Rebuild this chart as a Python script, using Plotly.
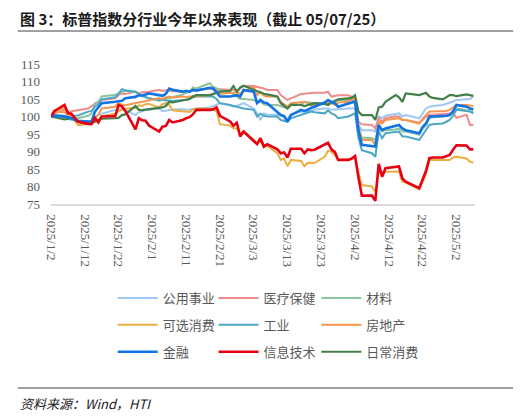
import plotly.graph_objects as go
import pandas as pd

# 美股交易日（剔除休市日）
holidays = ["2025-01-09", "2025-01-20", "2025-02-17", "2025-04-18"]
dates = pd.bdate_range("2025-01-02", "2025-05-07", freq="C", holidays=holidays)

tick_labels = ["2025/1/2", "2025/1/12", "2025/1/22", "2025/2/1", "2025/2/11", "2025/2/21",
               "2025/3/3", "2025/3/13", "2025/3/23", "2025/4/2", "2025/4/12", "2025/4/22", "2025/5/2"]

# 各行业指数（2025/1/2 = 100），按月分行
utilities = [100, 100.0, 99.8, 99.3, 99.0, 98.8, 98.5, 98.7, 100.0, 100.4, 100.8, 101.9, 102.3, 102.0, 101.8, 100.4, 101.2, 101.5, 101.9, 101.9,
             102.3, 101.5, 101.7, 102.0, 102.0, 102.1, 101.9, 102.0, 102.2, 102.3, 102.6, 103.0, 103.4, 103.8, 103.2, 102.8, 103.0, 103.5, 103.8,
             102.3, 100.9, 99.0, 100.9, 100.6, 100.4, 100.4, 100.0, 99.2, 100.6, 101.4, 101.2, 101.5, 101.9, 102.0, 102.3, 102.3, 101.9, 102.0, 102.2, 102.3,
             102.3, 102.3, 97.6, 96.1, 96.1, 95.7, 100.0, 99.5, 100.2, 100.6, 100.9, 100.0, 100.4, 99.5, 101.0, 102.3, 102.8, 103.0, 103.3, 103.6, 103.8,
             104.3, 104.7, 104.9, 105.0, 105.7]
health = [100, 100.9, 101.9, 101.4, 101.5, 101.8, 102.3, 103.0, 103.5, 104.0, 104.7, 105.2, 106.1, 106.6, 106.4, 107.1, 106.6, 106.9, 107.1, 107.1,
          107.6, 107.3, 107.5, 107.4, 107.1, 107.0, 107.1, 107.1, 107.3, 107.6, 108.0, 107.8, 107.5, 107.8, 107.6, 107.6, 107.3, 108.0, 108.7,
          108.7, 108.5, 108.3, 108.0, 107.6, 107.6, 106.1, 105.5, 104.7, 105.2, 106.4, 106.5, 106.6, 106.7, 106.8, 106.8, 107.1, 105.7, 105.9, 106.1, 106.1,
          105.7, 105.2, 98.5, 97.8, 97.6, 96.6, 99.5, 98.5, 99.5, 100.1, 100.0, 99.0, 99.0, 98.2, 99.0, 100.0, 100.4, 100.5, 100.7, 100.9, 100.9,
          100.9, 99.6, 100.5, 97.6, 97.6]
materials = [100, 100.3, 100.1, 99.8, 99.6, 99.5, 100.2, 100.9, 103.8, 104.2, 105.7, 106.2, 106.4, 107.1, 107.3, 107.0, 106.6, 106.0, 105.8, 105.2,
             104.5, 104.7, 105.0, 105.2, 105.5, 106.3, 106.8, 107.0, 108.3, 108.0, 109.5, 108.5, 108.0, 107.6, 107.0, 106.5, 105.7, 105.0, 105.0,
             104.7, 104.0, 104.3, 103.5, 103.3, 103.3, 103.0, 102.8, 102.3, 103.3, 103.3, 104.2, 104.0, 103.8, 103.8, 103.8, 103.8, 104.0, 104.2, 104.7, 104.7,
             104.7, 104.7, 97.1, 94.0, 93.8, 93.3, 96.6, 95.7, 96.1, 96.3, 96.6, 95.7, 95.7, 94.8, 96.5, 97.6, 99.5, 99.8, 100.0, 100.2, 100.4,
             101.0, 102.3, 101.8, 101.4, 101.2]
discretionary = [100, 101.8, 102.4, 101.0, 100.4, 97.5, 97.9, 98.2, 99.5, 99.0, 100.0, 100.8, 101.5, 102.0, 102.2, 102.5, 103.2, 103.0, 103.5, 103.6,
                 102.6, 103.5, 103.8, 103.3, 101.8, 101.5, 101.2, 101.3, 102.0, 102.2, 102.2, 102.0, 101.5, 97.8, 97.4, 96.7, 96.5, 95.2, 95.8,
                 93.3, 92.5, 93.0, 91.4, 91.6, 89.5, 87.6, 88.0, 85.8, 87.6, 87.3, 85.8, 86.8, 86.7, 86.7, 88.5, 90.2, 89.9, 89.0, 87.6, 87.6,
                 87.8, 88.7, 84.0, 80.4, 80.0, 78.5, 84.2, 83.3, 84.2, 84.3, 84.2, 81.4, 81.1, 79.2, 81.2, 83.6, 87.6, 87.6, 87.6, 87.7, 87.6,
                 88.3, 88.5, 88.0, 87.1, 86.8]
industrials = [100, 100.4, 100.2, 100.0, 100.2, 100.3, 101.4, 101.6, 102.8, 103.5, 104.9, 105.5, 106.6, 107.8, 107.5, 107.1, 106.4, 105.8, 105.5, 105.2,
               104.7, 104.9, 104.6, 104.5, 104.4, 104.7, 104.7, 105.0, 105.5, 105.7, 105.7, 105.7, 105.0, 103.8, 103.3, 103.0, 102.8, 102.5, 102.3,
               101.9, 100.0, 100.8, 100.2, 100.0, 100.0, 99.0, 98.8, 98.5, 99.5, 100.4, 100.6, 101.0, 101.4, 101.2, 100.9, 101.7, 100.9, 100.5, 99.5, 100.0,
               100.5, 100.9, 94.0, 90.4, 89.5, 88.5, 95.7, 93.8, 95.2, 95.5, 95.7, 94.3, 94.3, 93.3, 94.8, 96.1, 97.6, 97.8, 98.0, 98.5, 99.0,
               100.2, 101.9, 101.6, 101.4, 100.9]
real_estate = [100, 101.4, 101.2, 100.5, 100.3, 98.5, 98.5, 98.8, 99.5, 100.5, 102.3, 102.8, 103.8, 103.3, 103.2, 103.8, 104.0, 104.2, 104.5, 104.5,
               105.2, 105.0, 105.5, 105.7, 105.4, 105.7, 105.5, 105.7, 105.7, 105.8, 106.1, 106.5, 106.8, 106.5, 106.6, 106.8, 106.9, 106.5, 107.1,
               108.5, 106.1, 107.0, 106.0, 105.7, 105.7, 104.2, 103.5, 102.8, 103.8, 104.2, 104.2, 103.8, 103.3, 103.3, 103.8, 104.2, 103.8, 103.3, 104.0, 104.2,
               104.8, 105.2, 96.5, 93.3, 93.3, 91.9, 98.5, 98.0, 99.0, 99.3, 99.5, 99.0, 99.0, 98.0, 99.4, 100.4, 101.4, 101.4, 101.4, 101.6, 101.9,
               102.5, 103.3, 103.3, 103.1, 103.0]
staples = [100, 99.8, 99.2, 99.3, 99.5, 98.5, 98.3, 98.2, 98.5, 98.9, 99.4, 99.5, 99.6, 100.4, 100.6, 103.0, 101.9, 101.8, 101.9, 102.0,
           102.4, 102.6, 103.0, 104.2, 104.0, 104.5, 104.7, 105.0, 105.7, 106.1, 106.1, 106.5, 106.8, 107.1, 107.3, 108.7, 107.1, 108.3, 108.8,
           107.6, 107.1, 106.8, 106.5, 106.3, 105.7, 103.8, 103.0, 102.3, 103.3, 103.3, 103.0, 103.2, 103.5, 103.8, 103.6, 103.3, 104.0, 104.5, 104.9, 105.2,
           105.3, 106.1, 101.4, 100.4, 100.4, 99.0, 102.6, 102.8, 104.2, 106.1, 105.5, 104.2, 106.6, 106.1, 106.4, 106.8, 105.7, 105.3, 104.9, 105.5, 106.1,
           106.1, 105.8, 106.3, 106.0, 105.9]
financials = [100, 100.2, 100.0, 99.8, 99.5, 98.8, 98.5, 98.5, 101.4, 102.5, 103.8, 104.2, 104.3, 104.5, 105.2, 105.6, 106.1, 106.0, 106.3, 106.6,
              106.1, 105.9, 106.5, 108.0, 107.6, 107.1, 107.3, 107.1, 107.6, 107.4, 108.2, 108.0, 107.0, 105.7, 105.7, 105.9, 106.1, 105.7, 107.6,
              107.1, 103.8, 104.7, 104.0, 103.8, 101.4, 100.4, 100.1, 98.5, 100.4, 101.9, 101.6, 101.9, 102.5, 102.8, 104.0, 104.7, 104.2, 103.8, 102.8, 103.8,
              104.0, 104.2, 96.0, 91.9, 91.4, 91.4, 97.6, 96.1, 96.6, 97.3, 97.6, 96.6, 96.1, 95.2, 97.0, 98.0, 100.0, 100.0, 100.0, 100.2, 100.4,
              101.5, 103.3, 102.8, 102.3, 102.0]
info_tech = [100, 101.5, 103.3, 101.0, 100.8, 98.5, 97.9, 97.8, 99.6, 98.3, 100.0, 100.1, 103.3, 102.9, 101.6, 96.3, 99.5, 98.9, 98.8, 97.4,
             95.7, 97.1, 97.3, 99.0, 98.3, 99.0, 99.5, 99.8, 100.6, 101.9, 101.9, 102.1, 102.6, 100.2, 98.6, 97.4, 98.2, 94.3, 95.7,
             92.9, 92.1, 93.8, 91.4, 92.1, 90.6, 89.5, 89.7, 88.3, 90.8, 90.8, 89.5, 90.6, 90.4, 90.5, 92.0, 92.5, 90.6, 89.9, 87.6, 87.6,
             88.0, 88.7, 82.6, 77.4, 77.4, 75.9, 86.5, 82.8, 85.2, 85.5, 85.7, 82.3, 81.4, 79.5, 82.0, 84.5, 88.1, 88.3, 88.3, 88.6, 89.0,
             90.5, 91.8, 91.7, 90.6, 90.6]

names = ["公用事业", "医疗保健", "材料", "可选消费", "工业", "房地产", "日常消费", "金融", "信息技术"]
series = [utilities, health, materials, discretionary, industrials, real_estate, staples, financials, info_tech]
colors = ["#9DC8F5", "#F08A8C", "#8CC49B", "#ECAE40", "#4BA7C3", "#F4964E", "#437F48", "#1274E3", "#E60012"]
widths = [2, 2, 2, 2, 2, 2, 2.2, 2.6, 2.6]
legend_of = ["legend", "legend2", "legend3", "legend", "legend2", "legend3", "legend3", "legend", "legend2"]

fig = go.Figure()
for i in range(len(names)):
    assert len(series[i]) == len(dates), names[i]
    fig.add_trace(go.Scatter(
        x=dates, y=series[i], name=names[i], mode="lines",
        line=dict(color=colors[i], width=widths[i]),
        legend=legend_of[i], legendgroup=names[i],
    ))

# the page puts the figure 8px in from the top-left, so positions below are
# given in window pixels and shifted by OFF
OFF = 8
W, H = 521 - OFF, 416 - OFF
PL, PR, PT, PB = 42 - OFF, 46, 64 - OFF, 212
pw, ph = W - PL - PR, H - PT - PB


def px_x(x):
    return (x - OFF - PL) / pw


def px_y(y):
    return (H - PB - (y - OFF)) / ph


legend_style = dict(xanchor="left", yanchor="top", y=px_y(283), bgcolor="rgba(0,0,0,0)",
                    font=dict(family="Noto Sans CJK SC", size=13, color="#595959"),
                    tracegroupgap=7, itemwidth=40)

tick_vals = pd.to_datetime(tick_labels, format="%Y/%m/%d")

fig.update_layout(
    width=W, height=H,
    margin=dict(l=PL, r=PR, t=PT, b=PB),
    plot_bgcolor="white", paper_bgcolor="white",
    legend=dict(x=px_x(105), **legend_style),
    legend2=dict(x=px_x(208), **legend_style),
    legend3=dict(x=px_x(313), **legend_style),
    xaxis=dict(
        range=[pd.Timestamp("2025-01-02"), pd.Timestamp("2025-05-07 12:00")],
        tickvals=tick_vals, ticktext=tick_labels, tickangle=90,
        showgrid=False, zeroline=False,
        showline=True, linecolor="#D9D9D9", linewidth=1.5,
        ticks="", ticklabelstandoff=6,
        tickfont=dict(family="Liberation Serif", size=13, color="#595959"),
    ),
    yaxis=dict(
        range=[75, 115], dtick=5, showgrid=False, zeroline=False, showline=False,
        ticks="", ticklabelstandoff=10,
        tickfont=dict(family="Liberation Serif", size=13, color="#595959"),
    ),
    shapes=[
        dict(type="line", xref="paper", yref="paper", x0=px_x(8), x1=px_x(516), y0=px_y(31), y1=px_y(31),
             line=dict(color="#404040", width=1)),
        dict(type="line", xref="paper", yref="paper", x0=px_x(8), x1=px_x(516), y0=px_y(388), y1=px_y(388),
             line=dict(color="#404040", width=1)),
    ],
    annotations=[
        dict(text="<b>图 3：标普指数分行业今年以来表现（截止 05/07/25）</b>", xref="paper", yref="paper",
             x=px_x(8), y=px_y(18), xanchor="left", yanchor="middle", showarrow=False,
             font=dict(family="Noto Sans CJK SC", size=15, color="#1a1a1a")),
        dict(text="<i>资料来源：Wind，HTI</i>", xref="paper", yref="paper",
             x=px_x(8), y=px_y(403), xanchor="left", yanchor="middle", showarrow=False,
             font=dict(family="Noto Sans CJK SC", size=13, color="#1a1a1a")),
    ],
)

fig.write_html("out.html")
